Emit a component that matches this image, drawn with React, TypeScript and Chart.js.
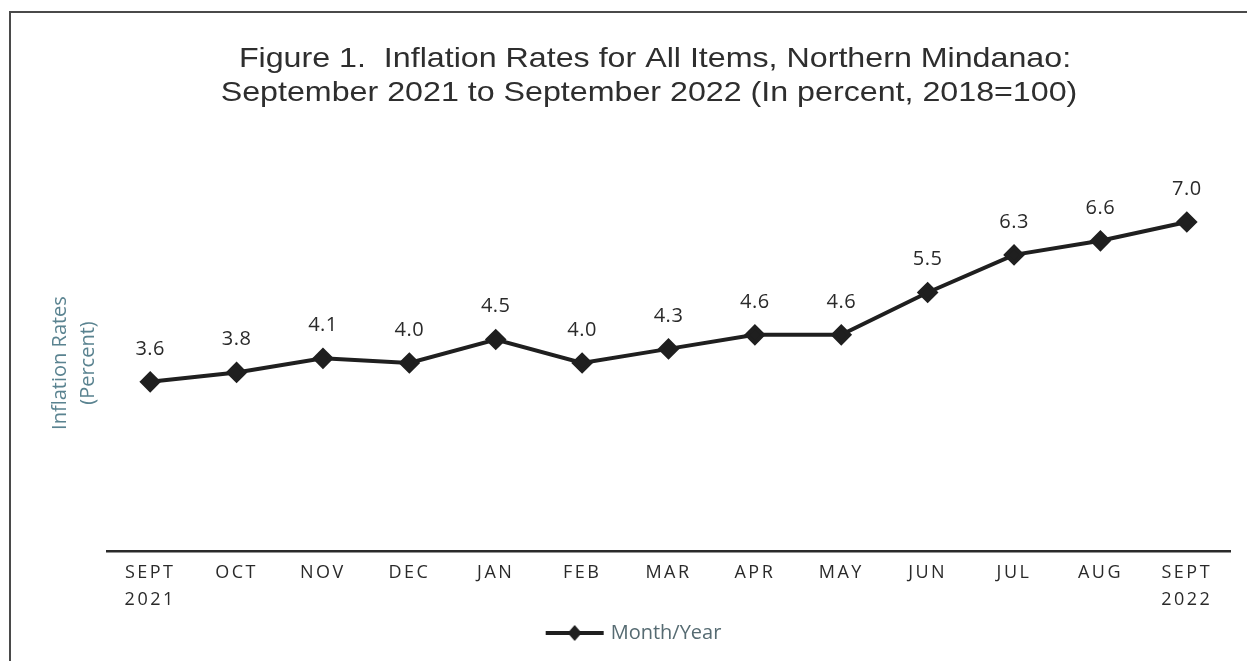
import React, { useEffect, useRef } from 'react';
import { Chart, registerables } from 'chart.js';

Chart.register(...registerables);

// ---- data ----
const categories: (string | string[])[] = [
  ['SEPT', '2021'], 'OCT', 'NOV', 'DEC', 'JAN', 'FEB', 'MAR', 'APR', 'MAY', 'JUN', 'JUL', 'AUG', ['SEPT', '2022'],
];
const inflationRates = [3.6, 3.8, 4.1, 4.0, 4.5, 4.0, 4.3, 4.6, 4.6, 5.5, 6.3, 6.6, 7.0];
const seriesName = 'Month/Year';
const titleLines = [
  'Figure 1.  Inflation Rates for All Items, Northern Mindanao:',
  'September 2021 to September 2022 (In percent, 2018=100)',
];
const yTitleLines = ['Inflation Rates', '(Percent)'];

const LINE_COLOR = '#1f1f1f';

function makeLegendSymbol(): HTMLCanvasElement {
  const c = document.createElement('canvas');
  c.width = 64;
  c.height = 18;
  const g = c.getContext('2d')!;
  g.strokeStyle = LINE_COLOR;
  g.lineWidth = 4;
  g.beginPath();
  g.moveTo(3, 9);
  g.lineTo(61, 9);
  g.stroke();
  g.fillStyle = LINE_COLOR;
  g.beginPath();
  g.moveTo(32, 1);
  g.lineTo(39, 9);
  g.lineTo(32, 17);
  g.lineTo(25, 9);
  g.closePath();
  g.fill();
  return c;
}

const titlePlugin = {
  id: 'figureTitle',
  afterDraw(chart: any) {
    const ctx = chart.ctx;
    ctx.save();
    ctx.letterSpacing = '0px';
    ctx.font = '28px "Liberation Sans", Arial, sans-serif';
    ctx.fillStyle = '#2e2e2e';
    ctx.textAlign = 'center';
    ctx.textBaseline = 'middle';
    const centers = [[655, 59], [649, 93]];
    titleLines.forEach((t, i) => {
      ctx.save();
      ctx.translate(centers[i][0], centers[i][1]);
      ctx.scale(1.15, 1);
      ctx.fillText(t, 0, 0);
      ctx.restore();
    });
    ctx.restore();
  },
};

const dataLabelPlugin = {
  id: 'dataLabels',
  afterDatasetsDraw(chart: any) {
    const ctx = chart.ctx;
    const meta = chart.getDatasetMeta(0);
    const values = chart.data.datasets[0].data as number[];
    ctx.save();
    ctx.letterSpacing = '0.5px';
    ctx.font = '20px "Open Sans", sans-serif';
    ctx.fillStyle = '#2a2a2a';
    ctx.textAlign = 'center';
    ctx.textBaseline = 'middle';
    meta.data.forEach((pt: any, i: number) => {
      ctx.fillText(values[i].toFixed(1), pt.x, pt.y - 33);
    });
    ctx.restore();
  },
};

// x tick labels are drawn after the datasets (ticks.z = 1) with wide tracking
const spacingPlugin = {
  id: 'tickSpacing',
  afterDatasetsDraw(chart: any) {
    chart.ctx.letterSpacing = '2.5px';
  },
  afterDraw(chart: any) {
    chart.ctx.letterSpacing = '0px';
  },
};

export default function App() {
  const ref = useRef<HTMLCanvasElement>(null);

  useEffect(() => {
    if (!ref.current) return;
    const symbol = makeLegendSymbol();
    const chart = new Chart(ref.current, {
      type: 'line',
      data: {
        labels: categories,
        datasets: [
          {
            label: seriesName,
            data: inflationRates,
            borderColor: LINE_COLOR,
            backgroundColor: LINE_COLOR,
            borderWidth: 4,
            pointStyle: 'rectRot',
            pointRadius: 8,
            pointBackgroundColor: LINE_COLOR,
            pointBorderColor: LINE_COLOR,
            tension: 0,
          },
        ],
      },
      options: {
        responsive: false,
        animation: false,
        layout: { padding: { left: 40, right: 17, top: 175, bottom: 8 } },
        scales: {
          x: {
            offset: true,
            grid: { display: false, drawTicks: false },
            border: { display: true, color: '#2a2a2a', width: 2.5 },
            ticks: {
              z: 1,
              color: '#2a2a2a',
              padding: 8,
              maxRotation: 0,
              autoSkip: false,
              font: { family: '"Open Sans", sans-serif', size: 18, lineHeight: 1.5 },
            },
            afterFit: (s: any) => {
              s.height = 62;
            },
          },
          y: {
            min: 0,
            max: 8,
            grid: { display: false, drawTicks: false },
            border: { display: false },
            ticks: { display: false },
            title: {
              display: true,
              text: yTitleLines,
              color: '#5a8390',
              padding: { top: 6, bottom: 0 },
              font: { family: '"Open Sans", sans-serif', size: 20, lineHeight: 1.4 },
            },
            afterFit: (s: any) => {
              s.width = 67;
            },
          },
        },
        plugins: {
          title: { display: false },
          tooltip: { enabled: false },
          legend: {
            display: true,
            position: 'bottom',
            labels: {
              usePointStyle: true,
              pointStyleWidth: 52,
              color: '#566b72',
              font: { family: '"Open Sans", sans-serif', size: 20 },
              generateLabels: (c: any) => [
                {
                  text: c.data.datasets[0].label,
                  pointStyle: symbol,
                  fillStyle: LINE_COLOR,
                  strokeStyle: LINE_COLOR,
                  lineWidth: 0,
                  hidden: false,
                  datasetIndex: 0,
                  fontColor: '#566b72',
                },
              ],
            },
          },
        },
      },
      plugins: [dataLabelPlugin, spacingPlugin, titlePlugin],
    });
    return () => chart.destroy();
  }, []);

  return (
    <div style={{ position: 'fixed', left: 0, top: 0, width: 1247, height: 661, background: '#fff', overflow: 'hidden' }}>
      <div
        style={{
          position: 'absolute',
          left: 9,
          top: 11,
          width: 1300,
          height: 700,
          borderTop: '2px solid #4a4a4a',
          borderLeft: '2px solid #4a4a4a',
        }}
      />
      <canvas ref={ref} width={1247} height={661} style={{ position: 'absolute', left: 0, top: 0 }} />
    </div>
  );
}
